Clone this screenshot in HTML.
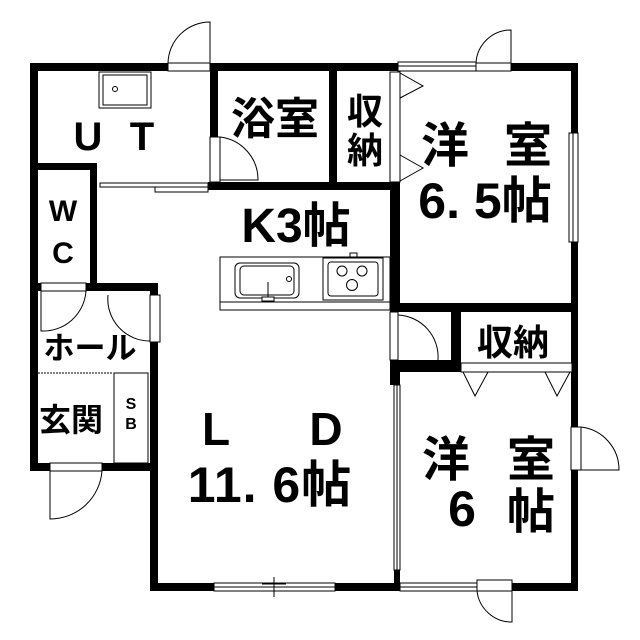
<!DOCTYPE html>
<html><head><meta charset="utf-8"><style>
html,body{margin:0;padding:0;background:#fff;}
svg{display:block;}
text{font-family:"Liberation Sans","Noto Sans CJK JP",sans-serif;font-weight:bold;fill:#000;}
</style></head><body>
<svg width="640" height="640" viewBox="0 0 640 640" xmlns="http://www.w3.org/2000/svg">
<g fill="#000">
<rect x="30" y="63" width="138" height="8"/>
<rect x="210" y="63" width="190" height="8"/>
<rect x="511" y="63" width="67" height="8"/>
<rect x="30" y="63" width="8" height="408"/>
<rect x="571" y="63" width="7" height="70"/>
<rect x="571" y="242" width="7" height="185"/>
<rect x="571" y="470" width="7" height="120"/>
<rect x="150" y="583" width="64" height="8"/>
<rect x="335" y="583" width="63" height="8"/>
<rect x="512" y="583" width="66" height="8"/>
<rect x="210" y="63" width="8" height="74"/>
<rect x="329" y="63" width="8" height="127"/>
<rect x="208" y="182" width="192" height="8"/>
<rect x="30" y="163" width="67" height="7"/>
<rect x="90" y="163" width="7" height="128"/>
<rect x="30" y="283" width="11" height="8"/>
<rect x="86" y="283" width="71" height="8"/>
<rect x="150" y="283" width="8" height="12"/>
<rect x="150" y="342" width="8" height="249"/>
<rect x="30" y="463" width="20" height="8"/>
<rect x="102" y="463" width="56" height="8"/>
<rect x="390" y="182" width="10" height="130"/>
<rect x="390" y="303" width="188" height="9"/>
<rect x="390" y="360" width="10" height="25"/>
<rect x="390" y="360" width="70" height="12"/>
<rect x="451" y="303" width="10" height="69"/>
<rect x="394" y="570" width="6" height="21"/>
</g>
<g fill="#fff" stroke="#000" stroke-width="1">
<rect x="168" y="63" width="42" height="8"/>
<path d="M168,63 A42,42 0 0 1 210,22 L210,63" fill="none"/>
<rect x="210" y="137" width="10" height="45"/>
<path d="M220,137 A43,43 0 0 1 258,180 L220,180" fill="none"/>
<rect x="99" y="72" width="52" height="36"/>
<rect x="103" y="75" width="44" height="30"/>
<circle cx="115" cy="89" r="2.5"/>
<rect x="100" y="183" width="108" height="4"/>
<rect x="155" y="187" width="53" height="5"/>
<rect x="390" y="72" width="10" height="110"/>
<path d="M400,73 L423,86 L400,98 M400,155 L423,168 L400,181" fill="none"/>
<rect x="398" y="62" width="78" height="9"/>
<line x1="398" y1="66" x2="476" y2="66"/>
<rect x="476" y="63" width="35" height="8"/>
<path d="M476,63 A35,35 0 0 1 511,30 L511,63" fill="none"/>
<rect x="569" y="133" width="9" height="109"/>
<line x1="573" y1="133" x2="573" y2="242"/>
<rect x="220" y="257" width="170" height="53"/>
<line x1="220" y1="302" x2="390" y2="302"/>
<rect x="235" y="263" width="64" height="35" rx="5"/>
<rect x="240" y="266" width="54" height="29" rx="4"/>
<circle cx="289" cy="279" r="2.5"/>
<line x1="268" y1="282" x2="268" y2="300"/>
<rect x="262" y="297" width="12" height="4"/>
<rect x="323" y="258" width="60" height="42"/>
<rect x="328" y="262" width="50" height="34" rx="3"/>
<circle cx="342" cy="271" r="5"/>
<circle cx="362" cy="271" r="5"/>
<circle cx="352" cy="285" r="5.5"/>
<rect x="350" y="253" width="7" height="4"/>
<rect x="41" y="283" width="45" height="8"/>
<path d="M41,291 L41,331 A43,43 0 0 0 86,291" fill="none"/>
<rect x="150" y="295" width="10" height="47"/>
<path d="M108,295 A42,42 0 0 0 150,341" fill="none"/>
<rect x="114" y="373" width="34" height="90"/>
<line x1="38" y1="373" x2="113" y2="373" stroke-dasharray="2,1"/>
<rect x="50" y="463" width="52" height="8"/>
<path d="M102,471 A52,52 0 0 1 50,519 L50,471" fill="none"/>
<rect x="390" y="312" width="8" height="48"/>
<path d="M398,315 A42,42 0 0 1 438,360" fill="none"/>
<rect x="461" y="363" width="111" height="9"/>
<path d="M463,372 L475,396 L488,372 M545,372 L557,396 L570,372" fill="none"/>
<rect x="394" y="385" width="6" height="185"/>
<line x1="397" y1="385" x2="397" y2="570"/>
<rect x="214" y="583" width="121" height="8"/>
<line x1="214" y1="587" x2="335" y2="587"/>
<line x1="274" y1="577" x2="274" y2="597"/>
<line x1="262" y1="584" x2="286" y2="584"/>
<rect x="400" y="583" width="77" height="8"/>
<line x1="400" y1="587" x2="477" y2="587"/>
<rect x="477" y="580" width="35" height="11"/>
<path d="M477,591 A35,35 0 0 0 512,622 L512,591" fill="none"/>
<rect x="571" y="427" width="10" height="43"/>
<path d="M581,427 A43,43 0 0 1 619,470 L581,470" fill="none"/>
</g>
<text x="88" y="150" font-size="40" text-anchor="middle" font-weight="normal" transform="scale(1,1)">U</text>
<text x="142" y="150" font-size="40" text-anchor="middle" font-weight="normal">T</text>
<text x="275" y="134" font-size="44" text-anchor="middle">浴室</text>
<text x="365" y="124" font-size="36" text-anchor="middle">収</text>
<text x="365" y="163" font-size="36" text-anchor="middle">納</text>
<text x="445" y="162" font-size="48" text-anchor="middle">洋</text>
<text x="528" y="162" font-size="48" text-anchor="middle">室</text>
<text x="485" y="218" font-size="50" text-anchor="middle" letter-spacing="0">6. 5帖</text>
<text x="296" y="242" font-size="48" text-anchor="middle">K3帖</text>
<text x="63" y="221" font-size="30" text-anchor="middle" font-weight="normal">W</text>
<text x="63" y="263" font-size="30" text-anchor="middle" font-weight="normal">C</text>
<text x="90" y="359" font-size="31" text-anchor="middle">ホール</text>
<text x="71" y="431" font-size="32" text-anchor="middle">玄関</text>
<text x="131" y="409" font-size="16" text-anchor="middle" font-weight="normal">S</text>
<text x="131" y="429" font-size="16" text-anchor="middle" font-weight="normal">B</text>
<text x="216" y="445" font-size="46" text-anchor="middle" font-weight="normal">L</text>
<text x="326" y="445" font-size="46" text-anchor="middle" font-weight="normal">D</text>
<text x="270" y="502" font-size="50" text-anchor="middle" letter-spacing="1">11. 6帖</text>
<text x="446" y="476" font-size="48" text-anchor="middle">洋</text>
<text x="531" y="476" font-size="48" text-anchor="middle">室</text>
<text x="462" y="526" font-size="50" text-anchor="middle">6</text>
<text x="531" y="528" font-size="48" text-anchor="middle">帖</text>
<text x="513" y="355" font-size="36" text-anchor="middle">収納</text>
</svg>
</body></html>
